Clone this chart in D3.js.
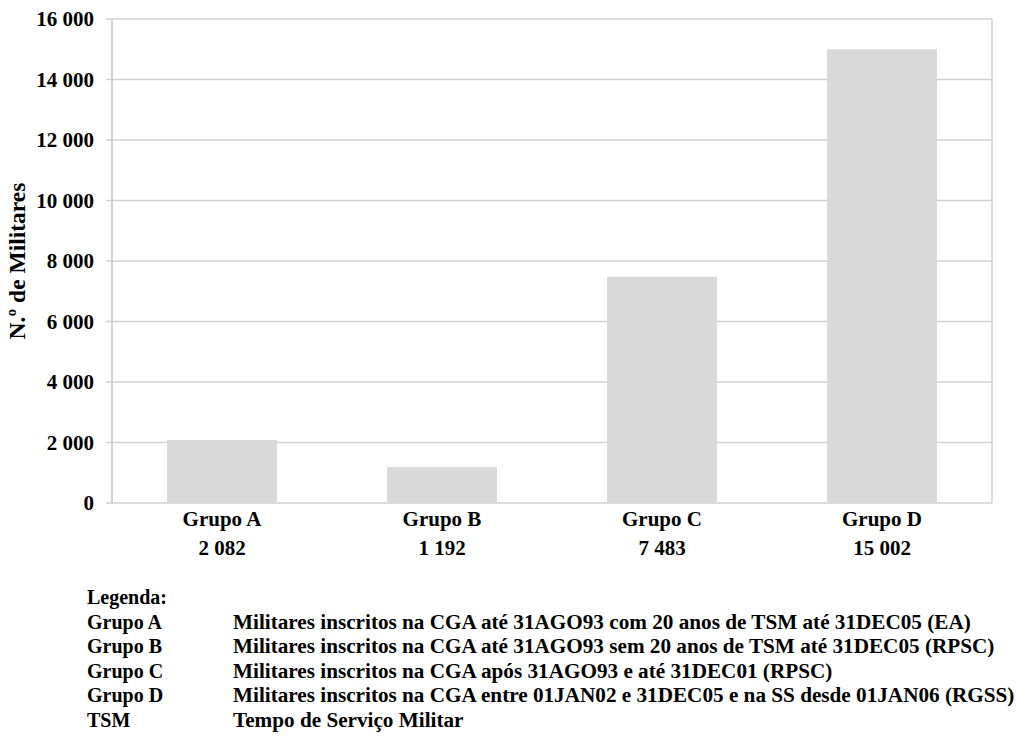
<!DOCTYPE html>
<html>
<head>
<meta charset="utf-8">
<script src="https://cdn.jsdelivr.net/npm/d3@7"></script>
</head>
<body style="margin:0">
<script>
const groups = ["Grupo A", "Grupo B", "Grupo C", "Grupo D"];
const counts = [2082, 1192, 7483, 15002];
const yTicks = [0, 2000, 4000, 6000, 8000, 10000, 12000, 14000, 16000];
const legendKeys = ["Grupo A", "Grupo B", "Grupo C", "Grupo D", "TSM"];
const legendTexts = [
    "Militares inscritos na CGA até 31AGO93 com 20 anos de TSM até 31DEC05 (EA)",
    "Militares inscritos na CGA até 31AGO93 sem 20 anos de TSM até 31DEC05 (RPSC)",
    "Militares inscritos na CGA após 31AGO93 e até 31DEC01 (RPSC)",
    "Militares inscritos na CGA entre 01JAN02 e 31DEC05 e na SS desde 01JAN06 (RGSS)",
    "Tempo de Serviço Militar"
];

const width = 1016, height = 754;
const plot = {left: 112, right: 992, top: 19, bottom: 503};

// space as thousands separator
const fmt = d => d3.format(",")(d).replace(/,/g, " ");

let svg = d3.select("body")
    .append("svg")
    .attr("width", width)
    .attr("height", height);

// every label goes through this so the serif font is set on the element itself
function label(sel, size) {
    return sel.append("text")
        .attr("font-family", "Liberation Serif")
        .attr("font-weight", "bold")
        .attr("font-size", size)
        .attr("fill", "#000");
}

let x = d3.scaleBand()
    .domain(groups)
    .range([plot.left, plot.right])
    .paddingInner(0.5)
    .paddingOuter(0.25);

let y = d3.scaleLinear()
    .domain([0, 16000])
    .range([plot.bottom, plot.top]);

// gridlines (with little tick stubs left of the axis)
svg.append("g")
    .selectAll("line")
    .data(yTicks)
    .enter()
    .append("line")
    .attr("x1", plot.left - 6)
    .attr("x2", plot.right)
    .attr("y1", d => y(d))
    .attr("y2", d => y(d))
    .attr("stroke", "#d0d0d0")
    .attr("stroke-width", 1.5);

// frame sides
svg.append("line")
    .attr("x1", plot.left).attr("x2", plot.left)
    .attr("y1", plot.top).attr("y2", plot.bottom)
    .attr("stroke", "#c4c4c4").attr("stroke-width", 1.5);
svg.append("line")
    .attr("x1", plot.right).attr("x2", plot.right)
    .attr("y1", plot.top).attr("y2", plot.bottom)
    .attr("stroke", "#d0d0d0").attr("stroke-width", 1.5);

// bars
svg.append("g")
    .selectAll("rect")
    .data(counts)
    .enter()
    .append("rect")
    .attr("x", (d, i) => x(groups[i]))
    .attr("y", d => y(d))
    .attr("width", x.bandwidth())
    .attr("height", d => y(0) - y(d))
    .attr("fill", "#d9d9d9");

// y tick labels
let yl = svg.append("g");
yTicks.forEach(t => {
    label(yl, 21)
        .attr("x", plot.left - 18)
        .attr("y", y(t))
        .attr("dy", "0.34em")
        .attr("text-anchor", "end")
        .text(fmt(t));
});

// y axis title
label(svg, 23.5)
    .attr("transform", `translate(25, ${(plot.top + plot.bottom) / 2}) rotate(-90)`)
    .attr("text-anchor", "middle")
    .text("N.º de Militares");

// x labels: name + value
let xl = svg.append("g");
groups.forEach((g, i) => {
    let cx = x(g) + x.bandwidth() / 2;
    label(xl, 21).attr("x", cx).attr("y", 526).attr("text-anchor", "middle").text(g);
    label(xl, 21).attr("x", cx).attr("y", 555).attr("text-anchor", "middle").text(fmt(counts[i]));
});

// legend
let lg = svg.append("g");
label(lg, 20).attr("x", 87).attr("y", 604).text("Legenda:");
legendKeys.forEach((k, i) => {
    let yy = 629 + i * 24.4;
    label(lg, 20).attr("x", 87).attr("y", yy).text(k);
    label(lg, 21.2).attr("x", 233).attr("y", yy).text(legendTexts[i]);
});
</script>
</body>
</html>
